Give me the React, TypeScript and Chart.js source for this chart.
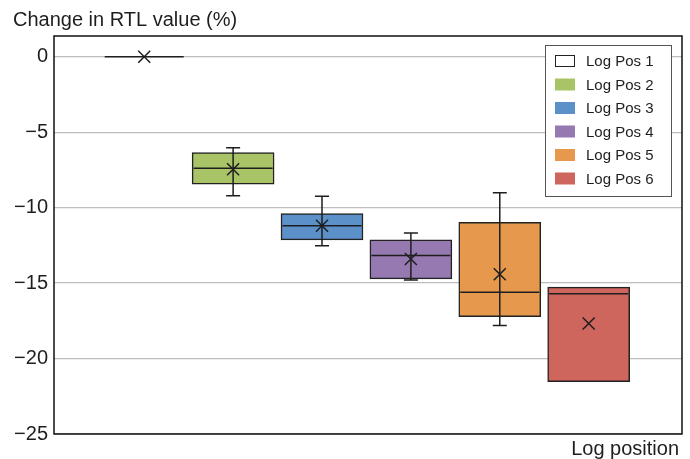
import { useEffect, useRef } from 'react';
import { Chart, registerables } from 'chart.js';

Chart.register(...registerables);

// Series (one box per logging position)
const positions = ['Log Pos 1', 'Log Pos 2', 'Log Pos 3', 'Log Pos 4', 'Log Pos 5', 'Log Pos 6'];
const slots = [1, 2, 3, 4, 5, 6];
const q1 = [0, -8.45, -12.14, -14.72, -17.22, -21.54];
const q3 = [0, -6.36, -10.4, -12.14, -10.97, -15.27];
const medians = [0, -7.39, -11.21, -13.18, -15.6, -15.7];
const whiskerLow = [0, -9.22, -12.52, -14.79, -17.81, -21.54];
const whiskerHigh = [0, -6.03, -9.25, -11.68, -9.01, -15.27];
const means = [0, -7.46, -11.2, -13.4, -14.41, -17.68];
const fills = ['#ffffff', '#a9c467', '#5b90c8', '#9579b0', '#e6994c', '#cf665e'];
const yTicks = [0, -5, -10, -15, -20, -25];

const yTitle = 'Change in RTL value (%)';
const xTitle = 'Log position';

const FONT = '"Liberation Sans", Arial, Helvetica, sans-serif';
const INK = '#1e1e1e';
const BOX_W = 82;

const boxPlugin = {
  id: 'boxExtras',
  afterDatasetsDraw(chart: any) {
    const { ctx, scales } = chart;
    const xs = scales.x;
    const ys = scales.y;
    ctx.save();
    ctx.strokeStyle = INK;
    ctx.lineWidth = 1.5;
    slots.forEach((s, i) => {
      const cx = xs.getPixelForValue(s);
      const yLo = ys.getPixelForValue(whiskerLow[i]);
      const yHi = ys.getPixelForValue(whiskerHigh[i]);
      // whisker stem and caps, only where the whiskers reach past the box
      if (whiskerHigh[i] > q3[i] || whiskerLow[i] < q1[i]) {
        ctx.beginPath();
        ctx.moveTo(cx, yLo);
        ctx.lineTo(cx, yHi);
        ctx.moveTo(cx - 7, yLo);
        ctx.lineTo(cx + 7, yLo);
        ctx.moveTo(cx - 7, yHi);
        ctx.lineTo(cx + 7, yHi);
        ctx.stroke();
      }
      // median
      const ym = ys.getPixelForValue(medians[i]);
      ctx.beginPath();
      ctx.moveTo(cx - BOX_W / 2 + 1.5, ym);
      ctx.lineTo(cx + BOX_W / 2 - 1.5, ym);
      ctx.stroke();
      // mean marker
      const yMean = ys.getPixelForValue(means[i]);
      const r = 6;
      ctx.beginPath();
      ctx.moveTo(cx - r, yMean - r);
      ctx.lineTo(cx + r, yMean + r);
      ctx.moveTo(cx - r, yMean + r);
      ctx.lineTo(cx + r, yMean - r);
      ctx.stroke();
    });
    ctx.restore();
  },
  afterDraw(chart: any) {
    const { ctx, chartArea } = chart;
    ctx.save();
    // plot frame
    ctx.strokeStyle = '#111';
    ctx.lineWidth = 1.5;
    ctx.strokeRect(chartArea.left, chartArea.top, chartArea.right - chartArea.left, chartArea.bottom - chartArea.top);

    // axis titles
    ctx.fillStyle = INK;
    ctx.font = `20px ${FONT}`;
    ctx.textBaseline = 'alphabetic';
    ctx.textAlign = 'left';
    ctx.fillText(yTitle, 13, 26);
    ctx.textAlign = 'right';
    ctx.fillText(xTitle, 679, 455);

    // legend
    const lx = 545;
    const ly = 45;
    const lw = 126;
    const lh = 151;
    ctx.fillStyle = '#ffffff';
    ctx.fillRect(lx, ly, lw, lh);
    ctx.strokeStyle = '#555';
    ctx.lineWidth = 1;
    ctx.strokeRect(lx + 0.5, ly + 0.5, lw, lh);
    ctx.font = `15px ${FONT}`;
    ctx.textAlign = 'left';
    ctx.textBaseline = 'middle';
    positions.forEach((label, i) => {
      const cy = 61 + i * 23.5;
      ctx.fillStyle = fills[i];
      ctx.fillRect(555, cy - 6, 20, 12);
      if (i === 0) {
        ctx.strokeStyle = '#222';
        ctx.lineWidth = 1;
        ctx.strokeRect(555.5, cy - 5.5, 19, 11);
      }
      ctx.fillStyle = INK;
      ctx.fillText(label, 586, cy + 1);
    });
    ctx.restore();
  },
};

export default function App() {
  const canvasRef = useRef<HTMLCanvasElement | null>(null);

  useEffect(() => {
    const canvas = canvasRef.current;
    if (!canvas) return;
    const chart = new Chart(canvas, {
      type: 'bar',
      data: {
        datasets: [
          {
            label: 'RTL change',
            data: slots.map((s, i) => ({ x: s, y: [q1[i], q3[i]] })) as any,
            backgroundColor: fills,
            borderColor: '#222',
            borderWidth: 1.5,
            borderSkipped: false,
            barThickness: BOX_W,
          },
        ],
      },
      options: {
        responsive: false,
        animation: false,
        devicePixelRatio: 1,
        layout: { padding: { left: 0, top: 36, right: 8, bottom: 25 } },
        plugins: {
          legend: { display: false },
          tooltip: { enabled: false },
          title: { display: false },
        },
        scales: {
          x: {
            type: 'linear',
            min: -0.015,
            max: 7.05,
            offset: false,
            display: false,
          },
          y: {
            type: 'linear',
            min: -25,
            max: 1.37,
            afterFit(scale: any) {
              scale.width = 54;
            },
            afterBuildTicks(scale: any) {
              scale.ticks = yTicks.map((v) => ({ value: v }));
            },
            border: { display: false },
            grid: { color: '#bdbdbd', lineWidth: 1.2, drawTicks: false },
            ticks: {
              padding: 6,
              color: INK,
              font: { family: FONT, size: 20 },
              callback: (v: any) => (Number(v) < 0 ? '\u2212' + Math.abs(Number(v)) : String(v)),
            },
          },
        },
      },
      plugins: [boxPlugin],
    });
    return () => chart.destroy();
  }, []);

  return (
    <div style={{ position: 'absolute', left: 0, top: 0, width: 690, height: 459, background: '#fff' }}>
      <canvas ref={canvasRef} width={690} height={459} style={{ width: 690, height: 459, display: 'block' }} />
    </div>
  );
}
